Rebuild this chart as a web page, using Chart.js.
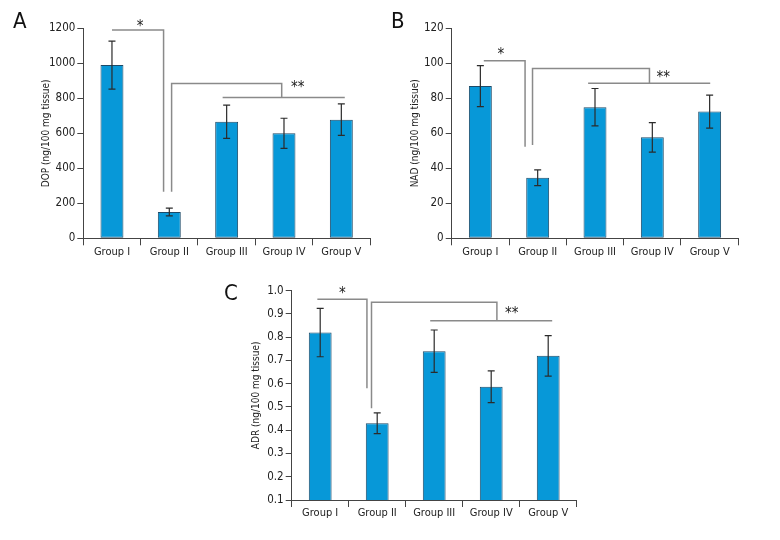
<!DOCTYPE html>
<html>
<head>
<meta charset="utf-8">
<script src="https://cdn.jsdelivr.net/npm/chart.js@4.4.0/dist/chart.umd.min.js"></script>
<style>
  body { margin: 0; background: #fff; width: 780px; height: 540px; position: relative; overflow: hidden; }
  .panel { position: absolute; }
  .letter { position: absolute; font-family: 'Liberation Sans Narrow', 'DejaVu Sans Condensed', sans-serif; font-size: 22px; color: #111; line-height: 1; }
</style>
</head>
<body>
<div class="panel" style="left:0;top:0"><canvas id="chartA" width="390" height="270"></canvas></div>
<div class="panel" style="left:390px;top:0"><canvas id="chartB" width="390" height="270"></canvas></div>
<div class="panel" style="left:200px;top:270px"><canvas id="chartC" width="400" height="270"></canvas></div>
<div class="letter" style="left:13px;top:10px">A</div>
<div class="letter" style="left:391px;top:10px">B</div>
<div class="letter" style="left:224px;top:282px">C</div>
<script>
const groups = ['Group I', 'Group II', 'Group III', 'Group IV', 'Group V'];

// panel A - dopamine
const dopMean = [990, 150, 666, 600, 678];
const dopErr = [137, 22, 95, 86, 90];
// panel B - noradrenaline
const nadMean = [87, 34.6, 74.9, 57.7, 72.4];
const nadErr = [11.7, 4.5, 10.7, 8.4, 9.4];
// panel C - adrenaline
const adrMean = [0.82, 0.43, 0.74, 0.587, 0.72];
const adrErr = [0.104, 0.045, 0.091, 0.068, 0.087];

// significance brackets as (category index, value) polylines
const dopBrackets = [
  [[0, 1190], [0.9, 1190], [0.9, 266]],
  [[1.04, 266], [1.04, 885], [2.96, 885], [2.96, 805]],
  [[1.93, 805], [4.06, 805]]
];
const dopStars = [['*', 0.49, 1222], ['**', 3.24, 878]];

const nadBrackets = [
  [[0.06, 101.5], [0.78, 101.5], [0.78, 52.3]],
  [[0.91, 53.3], [0.91, 97.1], [2.95, 97.1], [2.95, 88.6]],
  [[1.88, 88.6], [4.01, 88.6]]
];
const nadStars = [['*', 0.36, 106.5], ['**', 3.19, 93.5]];

const adrBrackets = [
  [[-0.05, 0.963], [0.82, 0.963], [0.82, 0.58]],
  [[0.9, 0.494], [0.9, 0.95], [3.1, 0.95], [3.1, 0.871]],
  [[1.93, 0.871], [4.07, 0.871]]
];
const adrStars = [['*', 0.39, 0.998], ['**', 3.36, 0.912]];

const FONT = "'Liberation Sans Narrow', 'DejaVu Sans Condensed', sans-serif";
const BAR = '#0798d8';

const annotate = {
  id: 'annotate',
  afterDatasetsDraw(chart) {
    const o = chart.options.plugins.annotate;
    const ctx = chart.ctx;
    const x = chart.scales.x, y = chart.scales.y;
    const meta = chart.getDatasetMeta(0);
    ctx.save();
    // error bars
    ctx.strokeStyle = '#2b2b2b';
    ctx.lineWidth = 1.2;
    meta.data.forEach((bar, i) => {
      const m = o.mean[i], e = o.err[i];
      const top = y.getPixelForValue(m + e), bot = y.getPixelForValue(m - e);
      ctx.beginPath();
      ctx.moveTo(bar.x, top); ctx.lineTo(bar.x, bot);
      ctx.moveTo(bar.x - 3.5, top); ctx.lineTo(bar.x + 3.5, top);
      ctx.moveTo(bar.x - 3.5, bot); ctx.lineTo(bar.x + 3.5, bot);
      ctx.stroke();
    });
    // brackets
    ctx.strokeStyle = '#8a8a8a';
    ctx.lineWidth = 1.5;
    o.brackets.forEach(line => {
      ctx.beginPath();
      line.forEach((p, k) => {
        const px = x.getPixelForValue(p[0]), py = y.getPixelForValue(p[1]);
        if (k === 0) ctx.moveTo(px, py); else ctx.lineTo(px, py);
      });
      ctx.stroke();
    });
    ctx.fillStyle = '#222';
    ctx.font = '15px ' + FONT;
    ctx.textAlign = 'center';
    ctx.textBaseline = 'middle';
    o.stars.forEach(s => {
      ctx.fillText(s[0], x.getPixelForValue(s[1]), y.getPixelForValue(s[2]) + 3);
    });
    ctx.restore();
  }
};

function makeChart(id, cfg) {
  return new Chart(document.getElementById(id), {
    type: 'bar',
    data: {
      labels: groups,
      datasets: [{
        data: cfg.mean,
        backgroundColor: BAR,
        borderColor: '#1d4a68',
        borderWidth: 1,
        borderSkipped: false,
        barPercentage: 0.4,
        categoryPercentage: 1
      }]
    },
    plugins: [annotate],
    options: {
      responsive: false,
      animation: false,
      layout: { padding: cfg.pad },
      plugins: {
        legend: { display: false },
        tooltip: { enabled: false },
        annotate: { mean: cfg.mean, err: cfg.err, brackets: cfg.brackets, stars: cfg.stars }
      },
      scales: {
        x: {
          afterFit(s) { s.height = cfg.xh; },
          border: { color: '#444', width: 1 },
          grid: { offset: true, drawOnChartArea: false, drawTicks: true, tickLength: 7, color: '#444' },
          ticks: { color: '#222', padding: 0, font: { family: FONT, size: 11 }, maxRotation: 0 }
        },
        y: {
          min: cfg.min, max: cfg.max,
          afterFit(s) { s.width = cfg.yw; },
          border: { color: '#444', width: 1 },
          grid: { drawOnChartArea: false, drawTicks: true, tickLength: 6, color: '#444' },
          ticks: {
            stepSize: cfg.step, color: '#222', padding: 2,
            font: { family: FONT, size: 11.5 },
            callback: cfg.fmt
          },
          title: { display: true, text: cfg.title, color: '#222', padding: { top: 4, bottom: 4 }, font: { family: FONT, size: 10 } }
        }
      }
    }
  });
}

makeChart('chartA', {
  mean: dopMean, err: dopErr, brackets: dopBrackets, stars: dopStars,
  min: 0, max: 1200, step: 200, fmt: v => v,
  title: 'DOP (ng/100 mg tissue)',
  pad: { left: 36.5, top: 28.3, right: 20, bottom: 0 }, yw: 46.8, xh: 31.7
});
makeChart('chartB', {
  mean: nadMean, err: nadErr, brackets: nadBrackets, stars: nadStars,
  min: 0, max: 120, step: 20, fmt: v => v,
  title: 'NAD (ng/100 mg tissue)',
  pad: { left: 15, top: 28.3, right: 41.7, bottom: 0 }, yw: 46.7, xh: 31.7
});
makeChart('chartC', {
  mean: adrMean, err: adrErr, brackets: adrBrackets, stars: adrStars,
  min: 0.1, max: 1.0, step: 0.1, fmt: v => Number(v).toFixed(1),
  title: 'ADR (ng/100 mg tissue)',
  pad: { left: 46.6, top: 20.7, right: 23.3, bottom: 0 }, yw: 45.1, xh: 40
});
</script>
</body>
</html>
